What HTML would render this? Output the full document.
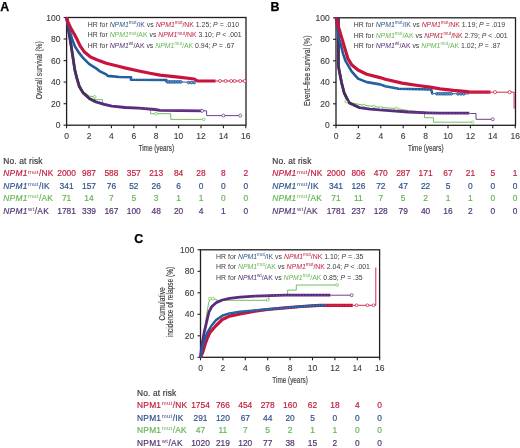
<!DOCTYPE html>
<html><head><meta charset="utf-8"><style>
html,body{margin:0;padding:0;background:#fff;}
body{width:520px;height:448px;overflow:hidden;}
svg{display:block;will-change:transform;font-family:"Liberation Sans",sans-serif;}
.tk{font-size:8.5px;fill:#3a3a3a;stroke:#3a3a3a;stroke-width:0.1px;}
.ax{font-size:8.7px;fill:#3a3a3a;stroke:#3a3a3a;stroke-width:0.15px;}
.hr{font-size:6.9px;fill:#3a3a3a;}
.sup{font-size:4.6px;stroke-width:0;}
.rk{font-size:8.4px;fill:#3a3a3a;stroke:#3a3a3a;stroke-width:0.18px;}
.rsup{font-size:5.9px;stroke-width:0;}
.pl{font-size:12.4px;font-weight:bold;fill:#000;stroke:#000;stroke-width:0.25px;}
</style></head><body>
<svg width="520" height="448" viewBox="0 0 520 448">
<rect width="520" height="448" fill="#fff"/>
<text x="0.3" y="10.9" class="pl">A</text><text x="270.6" y="10.9" class="pl">B</text><text x="134.2" y="242.5" class="pl">C</text><rect x="66.6" y="17.5" width="179.4" height="107.7" fill="none" stroke="#231f20" stroke-width="1.3"/><line x1="63.6" y1="125.2" x2="66.6" y2="125.2" stroke="#231f20" stroke-width="1.1"/><text x="60.4" y="128.3" text-anchor="end" class="tk">0</text><line x1="63.6" y1="103.7" x2="66.6" y2="103.7" stroke="#231f20" stroke-width="1.1"/><text x="60.4" y="106.8" text-anchor="end" class="tk">20</text><line x1="63.6" y1="82.1" x2="66.6" y2="82.1" stroke="#231f20" stroke-width="1.1"/><text x="60.4" y="85.2" text-anchor="end" class="tk">40</text><line x1="63.6" y1="60.6" x2="66.6" y2="60.6" stroke="#231f20" stroke-width="1.1"/><text x="60.4" y="63.7" text-anchor="end" class="tk">60</text><line x1="63.6" y1="39.0" x2="66.6" y2="39.0" stroke="#231f20" stroke-width="1.1"/><text x="60.4" y="42.1" text-anchor="end" class="tk">80</text><line x1="63.6" y1="17.5" x2="66.6" y2="17.5" stroke="#231f20" stroke-width="1.1"/><text x="60.4" y="20.6" text-anchor="end" class="tk">100</text><line x1="66.6" y1="125.2" x2="66.6" y2="128.2" stroke="#231f20" stroke-width="1.1"/><text x="66.6" y="138.7" text-anchor="middle" class="tk">0</text><line x1="89.0" y1="125.2" x2="89.0" y2="128.2" stroke="#231f20" stroke-width="1.1"/><text x="89.0" y="138.7" text-anchor="middle" class="tk">2</text><line x1="111.4" y1="125.2" x2="111.4" y2="128.2" stroke="#231f20" stroke-width="1.1"/><text x="111.4" y="138.7" text-anchor="middle" class="tk">4</text><line x1="133.8" y1="125.2" x2="133.8" y2="128.2" stroke="#231f20" stroke-width="1.1"/><text x="133.8" y="138.7" text-anchor="middle" class="tk">6</text><line x1="156.2" y1="125.2" x2="156.2" y2="128.2" stroke="#231f20" stroke-width="1.1"/><text x="156.2" y="138.7" text-anchor="middle" class="tk">8</text><line x1="178.6" y1="125.2" x2="178.6" y2="128.2" stroke="#231f20" stroke-width="1.1"/><text x="178.6" y="138.7" text-anchor="middle" class="tk">10</text><line x1="201.0" y1="125.2" x2="201.0" y2="128.2" stroke="#231f20" stroke-width="1.1"/><text x="201.0" y="138.7" text-anchor="middle" class="tk">12</text><line x1="223.4" y1="125.2" x2="223.4" y2="128.2" stroke="#231f20" stroke-width="1.1"/><text x="223.4" y="138.7" text-anchor="middle" class="tk">14</text><line x1="245.8" y1="125.2" x2="245.8" y2="128.2" stroke="#231f20" stroke-width="1.1"/><text x="245.8" y="138.7" text-anchor="middle" class="tk">16</text><text x="156.3" y="151.3" text-anchor="middle" class="ax" textLength="35.5" lengthAdjust="spacingAndGlyphs">Time (years)</text><rect x="336.0" y="17.8" width="179.5" height="107.5" fill="none" stroke="#231f20" stroke-width="1.3"/><line x1="333.0" y1="125.3" x2="336.0" y2="125.3" stroke="#231f20" stroke-width="1.1"/><text x="329.8" y="128.4" text-anchor="end" class="tk">0</text><line x1="333.0" y1="103.8" x2="336.0" y2="103.8" stroke="#231f20" stroke-width="1.1"/><text x="329.8" y="106.9" text-anchor="end" class="tk">20</text><line x1="333.0" y1="82.3" x2="336.0" y2="82.3" stroke="#231f20" stroke-width="1.1"/><text x="329.8" y="85.4" text-anchor="end" class="tk">40</text><line x1="333.0" y1="60.8" x2="336.0" y2="60.8" stroke="#231f20" stroke-width="1.1"/><text x="329.8" y="63.9" text-anchor="end" class="tk">60</text><line x1="333.0" y1="39.3" x2="336.0" y2="39.3" stroke="#231f20" stroke-width="1.1"/><text x="329.8" y="42.4" text-anchor="end" class="tk">80</text><line x1="333.0" y1="17.8" x2="336.0" y2="17.8" stroke="#231f20" stroke-width="1.1"/><text x="329.8" y="20.9" text-anchor="end" class="tk">100</text><line x1="336.0" y1="125.3" x2="336.0" y2="128.3" stroke="#231f20" stroke-width="1.1"/><text x="336.0" y="138.8" text-anchor="middle" class="tk">0</text><line x1="358.4" y1="125.3" x2="358.4" y2="128.3" stroke="#231f20" stroke-width="1.1"/><text x="358.4" y="138.8" text-anchor="middle" class="tk">2</text><line x1="380.8" y1="125.3" x2="380.8" y2="128.3" stroke="#231f20" stroke-width="1.1"/><text x="380.8" y="138.8" text-anchor="middle" class="tk">4</text><line x1="403.2" y1="125.3" x2="403.2" y2="128.3" stroke="#231f20" stroke-width="1.1"/><text x="403.2" y="138.8" text-anchor="middle" class="tk">6</text><line x1="425.6" y1="125.3" x2="425.6" y2="128.3" stroke="#231f20" stroke-width="1.1"/><text x="425.6" y="138.8" text-anchor="middle" class="tk">8</text><line x1="448.0" y1="125.3" x2="448.0" y2="128.3" stroke="#231f20" stroke-width="1.1"/><text x="448.0" y="138.8" text-anchor="middle" class="tk">10</text><line x1="470.4" y1="125.3" x2="470.4" y2="128.3" stroke="#231f20" stroke-width="1.1"/><text x="470.4" y="138.8" text-anchor="middle" class="tk">12</text><line x1="492.8" y1="125.3" x2="492.8" y2="128.3" stroke="#231f20" stroke-width="1.1"/><text x="492.8" y="138.8" text-anchor="middle" class="tk">14</text><line x1="515.2" y1="125.3" x2="515.2" y2="128.3" stroke="#231f20" stroke-width="1.1"/><text x="515.2" y="138.8" text-anchor="middle" class="tk">16</text><text x="425.8" y="151.4" text-anchor="middle" class="ax" textLength="35.5" lengthAdjust="spacingAndGlyphs">Time (years)</text><rect x="200.5" y="249.8" width="179.1" height="107.5" fill="none" stroke="#231f20" stroke-width="1.3"/><line x1="197.5" y1="357.3" x2="200.5" y2="357.3" stroke="#231f20" stroke-width="1.1"/><text x="194.3" y="360.4" text-anchor="end" class="tk">0</text><line x1="197.5" y1="335.8" x2="200.5" y2="335.8" stroke="#231f20" stroke-width="1.1"/><text x="194.3" y="338.9" text-anchor="end" class="tk">20</text><line x1="197.5" y1="314.3" x2="200.5" y2="314.3" stroke="#231f20" stroke-width="1.1"/><text x="194.3" y="317.4" text-anchor="end" class="tk">40</text><line x1="197.5" y1="292.8" x2="200.5" y2="292.8" stroke="#231f20" stroke-width="1.1"/><text x="194.3" y="295.9" text-anchor="end" class="tk">60</text><line x1="197.5" y1="271.3" x2="200.5" y2="271.3" stroke="#231f20" stroke-width="1.1"/><text x="194.3" y="274.4" text-anchor="end" class="tk">80</text><line x1="197.5" y1="249.8" x2="200.5" y2="249.8" stroke="#231f20" stroke-width="1.1"/><text x="194.3" y="252.9" text-anchor="end" class="tk">100</text><line x1="200.5" y1="357.3" x2="200.5" y2="360.3" stroke="#231f20" stroke-width="1.1"/><text x="200.5" y="370.8" text-anchor="middle" class="tk">0</text><line x1="222.9" y1="357.3" x2="222.9" y2="360.3" stroke="#231f20" stroke-width="1.1"/><text x="222.9" y="370.8" text-anchor="middle" class="tk">2</text><line x1="245.3" y1="357.3" x2="245.3" y2="360.3" stroke="#231f20" stroke-width="1.1"/><text x="245.3" y="370.8" text-anchor="middle" class="tk">4</text><line x1="267.7" y1="357.3" x2="267.7" y2="360.3" stroke="#231f20" stroke-width="1.1"/><text x="267.7" y="370.8" text-anchor="middle" class="tk">6</text><line x1="290.1" y1="357.3" x2="290.1" y2="360.3" stroke="#231f20" stroke-width="1.1"/><text x="290.1" y="370.8" text-anchor="middle" class="tk">8</text><line x1="312.5" y1="357.3" x2="312.5" y2="360.3" stroke="#231f20" stroke-width="1.1"/><text x="312.5" y="370.8" text-anchor="middle" class="tk">10</text><line x1="334.9" y1="357.3" x2="334.9" y2="360.3" stroke="#231f20" stroke-width="1.1"/><text x="334.9" y="370.8" text-anchor="middle" class="tk">12</text><line x1="357.3" y1="357.3" x2="357.3" y2="360.3" stroke="#231f20" stroke-width="1.1"/><text x="357.3" y="370.8" text-anchor="middle" class="tk">14</text><line x1="379.7" y1="357.3" x2="379.7" y2="360.3" stroke="#231f20" stroke-width="1.1"/><text x="379.7" y="370.8" text-anchor="middle" class="tk">16</text><text x="290.1" y="383.4" text-anchor="middle" class="ax" textLength="35.5" lengthAdjust="spacingAndGlyphs">Time (years)</text><polyline points="66.6,17.5 68.2,27.2 71.2,45.0 74.8,68.7 76.7,76.2 79.3,84.8 83.1,91.3 89.4,96.1 94.6,96.9 94.6,99.6 102.4,99.6 102.4,102.6 111.8,105.6 125.4,107.1 138.8,108.0 150.6,109.0 150.6,113.7 170.8,113.7 170.8,119.4 203.8,119.4" fill="none" stroke="#70c05c" stroke-width="1.0" stroke-linejoin="round" /><polyline points="202.1,110.8 206.6,110.8 206.6,115.6 240.2,115.6" fill="none" stroke="#5a2a80" stroke-width="0.9" stroke-linejoin="round" /><polyline points="66.6,17.5 68.2,27.9 71.2,46.1 74.8,69.9 76.7,77.6 79.3,86.5 83.1,92.9 85.0,94.5 89.4,98.6 95.7,101.8 98.5,102.6 104.0,104.4 111.8,106.2 125.4,107.5 138.8,108.2 155.0,109.5 160.0,110.3 202.1,110.8" fill="none" stroke="#5a2a80" stroke-width="2.8" stroke-linejoin="round" /><polyline points="138.8,108.2 155.0,109.5 160.0,110.3 202.1,110.8" fill="none" stroke="#b58fd0" stroke-width="0.8" stroke-linejoin="round" stroke-dasharray="0.9 2.1" opacity="0.55"/><polyline points="66.6,17.5 68.2,27.9 71.2,46.1 74.8,69.9 76.7,77.6 79.3,86.5 83.1,92.9 85.0,94.5 89.4,98.6 95.7,101.8" fill="none" stroke="#48305c" stroke-width="2.5" stroke-linejoin="round" /><polyline points="166.3,81.9 180.8,81.9 194.3,82.6" fill="none" stroke="#1f5c9e" stroke-width="1.0" stroke-linejoin="round" /><polyline points="66.6,17.5 67.7,22.9 70.6,34.1 72.4,40.1 74.8,46.1 78.5,52.1 83.3,58.2 89.3,64.2 95.3,67.8 99.5,71.1 106.2,74.4 107.8,75.9 119.4,77.0 131.0,77.3 131.0,79.8 166.3,80.0 166.3,81.9" fill="none" stroke="#1f5c9e" stroke-width="2.6" stroke-linejoin="round" /><polyline points="119.4,77.0 131.0,77.3 131.0,79.8 166.3,80.0 166.3,81.9" fill="none" stroke="#9cc0e6" stroke-width="0.8" stroke-linejoin="round" stroke-dasharray="0.9 2.1" opacity="0.55"/><circle cx="167.4" cy="81.9" r="1.3" fill="#7ea3cf" stroke="#1f5c9e" stroke-width="0.9"/><circle cx="169.1" cy="81.9" r="1.3" fill="#7ea3cf" stroke="#1f5c9e" stroke-width="0.9"/><circle cx="170.8" cy="81.9" r="1.3" fill="#7ea3cf" stroke="#1f5c9e" stroke-width="0.9"/><circle cx="172.4" cy="81.9" r="1.3" fill="#7ea3cf" stroke="#1f5c9e" stroke-width="0.9"/><circle cx="174.1" cy="81.9" r="1.3" fill="#7ea3cf" stroke="#1f5c9e" stroke-width="0.9"/><circle cx="175.8" cy="81.9" r="1.3" fill="#7ea3cf" stroke="#1f5c9e" stroke-width="0.9"/><circle cx="177.5" cy="81.9" r="1.3" fill="#7ea3cf" stroke="#1f5c9e" stroke-width="0.9"/><circle cx="179.2" cy="81.9" r="1.3" fill="#7ea3cf" stroke="#1f5c9e" stroke-width="0.9"/><circle cx="180.8" cy="81.9" r="1.3" fill="#7ea3cf" stroke="#1f5c9e" stroke-width="0.9"/><circle cx="188.7" cy="82.6" r="1.3" fill="#7ea3cf" stroke="#1f5c9e" stroke-width="0.9"/><circle cx="191.5" cy="82.6" r="1.3" fill="#7ea3cf" stroke="#1f5c9e" stroke-width="0.9"/><circle cx="194.3" cy="82.6" r="1.3" fill="#7ea3cf" stroke="#1f5c9e" stroke-width="0.9"/><polyline points="215.6,81.0 245.8,81.0" fill="none" stroke="#c8143c" stroke-width="0.9" stroke-linejoin="round" /><polyline points="66.6,17.5 67.9,21.8 70.6,27.9 74.2,34.1 77.4,40.1 80.3,46.1 84.5,52.1 90.5,57.0 98.9,60.6 106.2,63.3 119.4,66.5 124.8,67.9 138.8,71.0 150.0,73.3 160.0,75.1 178.6,77.1 194.3,79.0 197.6,81.0 215.6,81.0" fill="none" stroke="#c8143c" stroke-width="3.2" stroke-linejoin="round" /><polyline points="215.6,81.0" fill="none" stroke="#f3a0b4" stroke-width="0.8" stroke-linejoin="round" stroke-dasharray="0.9 2.1" opacity="0.55"/><circle cx="220.0" cy="81.0" r="1.5" fill="#fff" stroke="#c8143c" stroke-width="0.7"/><circle cx="225.6" cy="81.0" r="1.5" fill="#fff" stroke="#c8143c" stroke-width="0.7"/><circle cx="231.2" cy="81.0" r="1.5" fill="#fff" stroke="#c8143c" stroke-width="0.7"/><circle cx="234.6" cy="81.0" r="1.5" fill="#fff" stroke="#c8143c" stroke-width="0.7"/><circle cx="240.2" cy="81.0" r="1.5" fill="#fff" stroke="#c8143c" stroke-width="0.7"/><circle cx="244.7" cy="81.0" r="1.5" fill="#fff" stroke="#c8143c" stroke-width="0.7"/><circle cx="202.1" cy="110.8" r="1.5" fill="#fff" stroke="#5a2a80" stroke-width="0.7"/><circle cx="223.4" cy="115.6" r="1.5" fill="#fff" stroke="#5a2a80" stroke-width="0.7"/><circle cx="240.2" cy="115.6" r="1.5" fill="#fff" stroke="#5a2a80" stroke-width="0.7"/><circle cx="94.6" cy="96.9" r="1.4" fill="#fff" stroke="#70c05c" stroke-width="0.7"/><circle cx="156.2" cy="113.7" r="1.4" fill="#fff" stroke="#70c05c" stroke-width="0.7"/><circle cx="203.8" cy="119.4" r="1.4" fill="#fff" stroke="#70c05c" stroke-width="0.7"/><polyline points="338.4,17.8 338.4,65.6 339.1,70.0 341.6,82.8 344.2,93.0 346.1,99.0 348.0,101.4 352.8,103.2 364.0,105.3 374.1,106.4 380.8,107.5 396.5,108.5 408.8,110.7 424.5,112.2 424.5,117.7 433.4,117.7 433.4,122.2 472.6,122.2" fill="none" stroke="#70c05c" stroke-width="1.0" stroke-linejoin="round" /><polyline points="469.3,113.2 470.4,113.5 476.0,113.5 476.0,119.3 492.8,119.3" fill="none" stroke="#5a2a80" stroke-width="0.9" stroke-linejoin="round" /><polyline points="338.4,17.8 338.4,65.6 339.1,70.0 341.6,82.8 344.2,93.0 348.0,100.6 349.4,102.9 359.3,107.6 370.0,109.2 389.2,110.7 408.2,112.0 427.8,112.8 440.2,113.2 469.3,113.2" fill="none" stroke="#5a2a80" stroke-width="2.8" stroke-linejoin="round" /><polyline points="408.2,112.0 427.8,112.8 440.2,113.2 469.3,113.2" fill="none" stroke="#b58fd0" stroke-width="0.8" stroke-linejoin="round" stroke-dasharray="0.9 2.1" opacity="0.55"/><polyline points="338.4,17.8 338.4,65.6 339.1,70.0 341.6,82.8 344.2,93.0 348.0,100.6 349.4,102.9 359.3,107.6" fill="none" stroke="#48305c" stroke-width="2.5" stroke-linejoin="round" /><polyline points="433.4,93.5 469.3,93.9" fill="none" stroke="#1f5c9e" stroke-width="1.0" stroke-linejoin="round" /><polyline points="336.0,17.8 336.9,25.3 338.2,34.1 339.4,40.1 341.2,46.1 343.1,53.8 345.5,60.8 348.0,65.2 351.6,71.4 358.0,78.6 366.8,82.1 380.0,84.4 385.3,86.3 398.7,88.8 431.2,89.5 432.3,93.5 433.4,93.5" fill="none" stroke="#1f5c9e" stroke-width="2.6" stroke-linejoin="round" /><polyline points="366.8,82.1 380.0,84.4 385.3,86.3 398.7,88.8 431.2,89.5 432.3,93.5 433.4,93.5" fill="none" stroke="#9cc0e6" stroke-width="0.8" stroke-linejoin="round" stroke-dasharray="0.9 2.1" opacity="0.55"/><circle cx="436.8" cy="93.8" r="1.3" fill="#7ea3cf" stroke="#1f5c9e" stroke-width="0.9"/><circle cx="438.6" cy="93.8" r="1.3" fill="#7ea3cf" stroke="#1f5c9e" stroke-width="0.9"/><circle cx="440.4" cy="93.8" r="1.3" fill="#7ea3cf" stroke="#1f5c9e" stroke-width="0.9"/><circle cx="442.3" cy="93.8" r="1.3" fill="#7ea3cf" stroke="#1f5c9e" stroke-width="0.9"/><circle cx="444.1" cy="93.8" r="1.3" fill="#7ea3cf" stroke="#1f5c9e" stroke-width="0.9"/><circle cx="445.9" cy="93.8" r="1.3" fill="#7ea3cf" stroke="#1f5c9e" stroke-width="0.9"/><circle cx="447.7" cy="93.8" r="1.3" fill="#7ea3cf" stroke="#1f5c9e" stroke-width="0.9"/><circle cx="449.5" cy="93.8" r="1.3" fill="#7ea3cf" stroke="#1f5c9e" stroke-width="0.9"/><circle cx="451.4" cy="93.8" r="1.3" fill="#7ea3cf" stroke="#1f5c9e" stroke-width="0.9"/><circle cx="458.1" cy="93.9" r="1.3" fill="#7ea3cf" stroke="#1f5c9e" stroke-width="0.9"/><circle cx="460.9" cy="93.9" r="1.3" fill="#7ea3cf" stroke="#1f5c9e" stroke-width="0.9"/><circle cx="463.7" cy="93.9" r="1.3" fill="#7ea3cf" stroke="#1f5c9e" stroke-width="0.9"/><polyline points="490.6,92.2 514.1,92.2 514.1,108.6" fill="none" stroke="#c8143c" stroke-width="0.9" stroke-linejoin="round" /><polyline points="336.0,17.8 337.1,21.0 338.8,28.0 340.6,34.1 342.4,40.1 344.2,46.1 346.0,52.1 347.9,58.7 351.9,65.1 358.0,70.0 366.8,74.2 380.0,77.6 385.3,79.3 402.1,83.1 417.8,85.5 430.1,87.2 440.2,88.8 453.6,90.3 464.8,91.3 470.4,92.2 490.6,92.2" fill="none" stroke="#c8143c" stroke-width="3.2" stroke-linejoin="round" /><polyline points="470.4,92.2 490.6,92.2" fill="none" stroke="#f3a0b4" stroke-width="0.8" stroke-linejoin="round" stroke-dasharray="0.9 2.1" opacity="0.55"/><circle cx="495.0" cy="92.2" r="1.6" fill="#fff" stroke="#c8143c" stroke-width="0.7"/><circle cx="509.6" cy="92.2" r="1.6" fill="#fff" stroke="#c8143c" stroke-width="0.7"/><circle cx="492.8" cy="119.3" r="1.5" fill="#fff" stroke="#5a2a80" stroke-width="0.7"/><circle cx="346.1" cy="101.7" r="1.3" fill="#fff" stroke="#70c05c" stroke-width="0.7"/><circle cx="364.0" cy="105.5" r="1.3" fill="#fff" stroke="#70c05c" stroke-width="0.7"/><circle cx="374.1" cy="106.4" r="1.3" fill="#fff" stroke="#70c05c" stroke-width="0.7"/><circle cx="380.8" cy="107.6" r="1.3" fill="#fff" stroke="#70c05c" stroke-width="0.7"/><circle cx="396.5" cy="108.5" r="1.3" fill="#fff" stroke="#70c05c" stroke-width="0.7"/><circle cx="472.6" cy="122.2" r="1.3" fill="#fff" stroke="#70c05c" stroke-width="0.7"/><polyline points="200.5,357.3 202.2,346.6 204.4,330.4 206.7,314.3 208.7,302.5 210.0,298.7 216.2,299.2 216.2,300.3 268.8,300.3 268.8,295.2 287.6,295.2 287.6,290.1 296.3,290.1 296.3,285.0 337.1,285.0" fill="none" stroke="#70c05c" stroke-width="1.0" stroke-linejoin="round" /><polyline points="330.4,295.2 351.7,295.2" fill="none" stroke="#5a2a80" stroke-width="0.9" stroke-linejoin="round" /><polyline points="200.5,357.3 201.8,345.3 204.2,332.4 206.2,323.7 208.9,312.2 211.6,306.8 216.1,302.7 222.3,300.0 229.5,298.3 240.0,297.1 255.0,296.1 284.9,295.2 330.4,295.2" fill="none" stroke="#5a2a80" stroke-width="2.8" stroke-linejoin="round" /><polyline points="255.0,296.1 284.9,295.2 330.4,295.2" fill="none" stroke="#b58fd0" stroke-width="0.8" stroke-linejoin="round" stroke-dasharray="0.9 2.1" opacity="0.55"/><polyline points="352.8,305.3 373.5,305.3 375.8,305.3 375.8,267.5" fill="none" stroke="#c8143c" stroke-width="0.9" stroke-linejoin="round" /><polyline points="200.5,357.3 202.9,351.8 204.8,345.3 207.0,338.9 210.0,332.4 213.9,328.0 216.1,325.5 222.3,319.5 229.5,316.1 240.0,314.0 255.0,311.1 267.7,309.5 284.9,307.9 301.3,306.5 320.0,305.3 352.8,305.3" fill="none" stroke="#c8143c" stroke-width="3.2" stroke-linejoin="round" /><polyline points="301.3,306.5 320.0,305.3 352.8,305.3" fill="none" stroke="#f3a0b4" stroke-width="0.8" stroke-linejoin="round" stroke-dasharray="0.9 2.1" opacity="0.55"/><polyline points="200.5,357.3 201.6,350.9 202.9,345.3 204.8,338.9 207.4,332.4 211.6,325.5 216.1,320.1 222.3,315.7 229.5,313.4 240.0,311.7 255.0,310.4 267.7,309.2 284.9,307.9 301.3,306.5 320.0,305.3 325.9,305.1" fill="none" stroke="#1f5c9e" stroke-width="2.4" stroke-linejoin="round" /><polyline points="229.5,313.4 240.0,311.7 255.0,310.4 267.7,309.2 284.9,307.9 301.3,306.5 320.0,305.3 325.9,305.1" fill="none" stroke="#9cc0e6" stroke-width="0.8" stroke-linejoin="round" stroke-dasharray="0.9 2.1" opacity="0.55"/><circle cx="356.7" cy="305.3" r="1.4" fill="#fff" stroke="#c8143c" stroke-width="0.7"/><circle cx="367.4" cy="305.3" r="1.4" fill="#fff" stroke="#c8143c" stroke-width="0.7"/><circle cx="373.5" cy="305.3" r="1.4" fill="#fff" stroke="#c8143c" stroke-width="0.7"/><circle cx="351.7" cy="295.2" r="1.5" fill="#fff" stroke="#5a2a80" stroke-width="0.7"/><circle cx="210.0" cy="298.7" r="1.4" fill="#fff" stroke="#70c05c" stroke-width="0.7"/><circle cx="212.8" cy="298.6" r="1.4" fill="#fff" stroke="#70c05c" stroke-width="0.7"/><circle cx="267.7" cy="300.0" r="1.4" fill="#fff" stroke="#70c05c" stroke-width="0.7"/><circle cx="337.1" cy="285.0" r="1.4" fill="#fff" stroke="#70c05c" stroke-width="0.7"/><text x="87.8" y="26.8" class="hr">HR for <tspan fill="#2f5489" font-style="italic">NPM1</tspan><tspan fill="#2f5489" class="sup" dy="-2.9">mut</tspan><tspan fill="#2f5489" dy="2.9">/IK</tspan> vs <tspan fill="#c0203f" font-style="italic">NPM1</tspan><tspan fill="#c0203f" class="sup" dy="-2.9">mut</tspan><tspan fill="#c0203f" dy="2.9">/NK</tspan> 1.25; <tspan font-style="italic">P</tspan> = .010</text><text x="87.8" y="37.4" class="hr">HR for <tspan fill="#66b556" font-style="italic">NPM1</tspan><tspan fill="#66b556" class="sup" dy="-2.9">mut</tspan><tspan fill="#66b556" dy="2.9">/AK</tspan> vs <tspan fill="#c0203f" font-style="italic">NPM1</tspan><tspan fill="#c0203f" class="sup" dy="-2.9">mut</tspan><tspan fill="#c0203f" dy="2.9">/NK</tspan> 3.10; <tspan font-style="italic">P</tspan> < .001</text><text x="87.8" y="48.0" class="hr">HR for <tspan fill="#523470" font-style="italic">NPM1</tspan><tspan fill="#523470" class="sup" dy="-2.9">wt</tspan><tspan fill="#523470" dy="2.9">/AK</tspan> vs <tspan fill="#66b556" font-style="italic">NPM1</tspan><tspan fill="#66b556" class="sup" dy="-2.9">mut</tspan><tspan fill="#66b556" dy="2.9">/AK</tspan> 0.94; <tspan font-style="italic">P</tspan> = .67</text><text x="353.8" y="27.0" class="hr">HR for <tspan fill="#2f5489" font-style="italic">NPM1</tspan><tspan fill="#2f5489" class="sup" dy="-2.9">mut</tspan><tspan fill="#2f5489" dy="2.9">/IK</tspan> vs <tspan fill="#c0203f" font-style="italic">NPM1</tspan><tspan fill="#c0203f" class="sup" dy="-2.9">mut</tspan><tspan fill="#c0203f" dy="2.9">/NK</tspan> 1.19; <tspan font-style="italic">P</tspan> = .019</text><text x="353.8" y="37.6" class="hr">HR for <tspan fill="#66b556" font-style="italic">NPM1</tspan><tspan fill="#66b556" class="sup" dy="-2.9">mut</tspan><tspan fill="#66b556" dy="2.9">/AK</tspan> vs <tspan fill="#c0203f" font-style="italic">NPM1</tspan><tspan fill="#c0203f" class="sup" dy="-2.9">mut</tspan><tspan fill="#c0203f" dy="2.9">/NK</tspan> 2.79; <tspan font-style="italic">P</tspan> < .001</text><text x="353.8" y="48.2" class="hr">HR for <tspan fill="#523470" font-style="italic">NPM1</tspan><tspan fill="#523470" class="sup" dy="-2.9">wt</tspan><tspan fill="#523470" dy="2.9">/AK</tspan> vs <tspan fill="#66b556" font-style="italic">NPM1</tspan><tspan fill="#66b556" class="sup" dy="-2.9">mut</tspan><tspan fill="#66b556" dy="2.9">/AK</tspan> 1.02; <tspan font-style="italic">P</tspan> = .87</text><text x="216.1" y="258.7" class="hr">HR for <tspan fill="#2f5489" font-style="italic">NPM1</tspan><tspan fill="#2f5489" class="sup" dy="-2.9">mut</tspan><tspan fill="#2f5489" dy="2.9">/IK</tspan> vs <tspan fill="#c0203f" font-style="italic">NPM1</tspan><tspan fill="#c0203f" class="sup" dy="-2.9">mut</tspan><tspan fill="#c0203f" dy="2.9">/NK</tspan> 1.10; <tspan font-style="italic">P</tspan> = .35</text><text x="216.1" y="269.3" class="hr">HR for <tspan fill="#66b556" font-style="italic">NPM1</tspan><tspan fill="#66b556" class="sup" dy="-2.9">mut</tspan><tspan fill="#66b556" dy="2.9">/AK</tspan> vs <tspan fill="#c0203f" font-style="italic">NPM1</tspan><tspan fill="#c0203f" class="sup" dy="-2.9">mut</tspan><tspan fill="#c0203f" dy="2.9">/NK</tspan> 2.04; <tspan font-style="italic">P</tspan> < .001</text><text x="216.1" y="279.9" class="hr">HR for <tspan fill="#523470" font-style="italic">NPM1</tspan><tspan fill="#523470" class="sup" dy="-2.9">wt</tspan><tspan fill="#523470" dy="2.9">/AK</tspan> vs <tspan fill="#66b556" font-style="italic">NPM1</tspan><tspan fill="#66b556" class="sup" dy="-2.9">mut</tspan><tspan fill="#66b556" dy="2.9">/AK</tspan> 0.85; <tspan font-style="italic">P</tspan> = .35</text><text transform="translate(42.1,70.2) rotate(-90)" text-anchor="middle" class="ax" textLength="58" lengthAdjust="spacingAndGlyphs">Overall survival (%)</text><text transform="translate(310.2,70.8) rotate(-90)" text-anchor="middle" class="ax" textLength="70.5" lengthAdjust="spacingAndGlyphs">Event–free survival (%)</text><text transform="translate(165.2,303.9) rotate(-90)" text-anchor="middle" class="ax" textLength="33.3" lengthAdjust="spacingAndGlyphs">Cumulative</text><text transform="translate(172.9,302) rotate(-90)" text-anchor="middle" class="ax" textLength="70.5" lengthAdjust="spacingAndGlyphs">incidence of relapse (%)</text><text x="3.3" y="164.0" class="rk" style="letter-spacing:0.15px">No. at risk</text><text x="3.3" y="176.4" class="rk" style="fill:#c0203f;stroke:#c0203f;letter-spacing:0.25px"><tspan font-style="italic">NPM1</tspan><tspan class="rsup" dx="0.5" dy="-2.9">mut</tspan><tspan dx="0.3" dy="2.9">/NK</tspan></text><text x="66.6" y="176.4" class="rk" style="fill:#c0203f;stroke:#c0203f" text-anchor="middle">2000</text><text x="89.0" y="176.4" class="rk" style="fill:#c0203f;stroke:#c0203f" text-anchor="middle">987</text><text x="111.4" y="176.4" class="rk" style="fill:#c0203f;stroke:#c0203f" text-anchor="middle">588</text><text x="133.8" y="176.4" class="rk" style="fill:#c0203f;stroke:#c0203f" text-anchor="middle">357</text><text x="156.2" y="176.4" class="rk" style="fill:#c0203f;stroke:#c0203f" text-anchor="middle">213</text><text x="178.6" y="176.4" class="rk" style="fill:#c0203f;stroke:#c0203f" text-anchor="middle">84</text><text x="201.0" y="176.4" class="rk" style="fill:#c0203f;stroke:#c0203f" text-anchor="middle">28</text><text x="223.4" y="176.4" class="rk" style="fill:#c0203f;stroke:#c0203f" text-anchor="middle">8</text><text x="245.8" y="176.4" class="rk" style="fill:#c0203f;stroke:#c0203f" text-anchor="middle">2</text><text x="3.3" y="188.8" class="rk" style="fill:#2f5489;stroke:#2f5489;letter-spacing:0.25px"><tspan font-style="italic">NPM1</tspan><tspan class="rsup" dx="0.5" dy="-2.9">mut</tspan><tspan dx="0.3" dy="2.9">/IK</tspan></text><text x="66.6" y="188.8" class="rk" style="fill:#2f5489;stroke:#2f5489" text-anchor="middle">341</text><text x="89.0" y="188.8" class="rk" style="fill:#2f5489;stroke:#2f5489" text-anchor="middle">157</text><text x="111.4" y="188.8" class="rk" style="fill:#2f5489;stroke:#2f5489" text-anchor="middle">76</text><text x="133.8" y="188.8" class="rk" style="fill:#2f5489;stroke:#2f5489" text-anchor="middle">52</text><text x="156.2" y="188.8" class="rk" style="fill:#2f5489;stroke:#2f5489" text-anchor="middle">26</text><text x="178.6" y="188.8" class="rk" style="fill:#2f5489;stroke:#2f5489" text-anchor="middle">6</text><text x="201.0" y="188.8" class="rk" style="fill:#2f5489;stroke:#2f5489" text-anchor="middle">0</text><text x="223.4" y="188.8" class="rk" style="fill:#2f5489;stroke:#2f5489" text-anchor="middle">0</text><text x="245.8" y="188.8" class="rk" style="fill:#2f5489;stroke:#2f5489" text-anchor="middle">0</text><text x="3.3" y="201.2" class="rk" style="fill:#66b556;stroke:#66b556;letter-spacing:0.25px"><tspan font-style="italic">NPM1</tspan><tspan class="rsup" dx="0.5" dy="-2.9">mut</tspan><tspan dx="0.3" dy="2.9">/AK</tspan></text><text x="66.6" y="201.2" class="rk" style="fill:#66b556;stroke:#66b556" text-anchor="middle">71</text><text x="89.0" y="201.2" class="rk" style="fill:#66b556;stroke:#66b556" text-anchor="middle">14</text><text x="111.4" y="201.2" class="rk" style="fill:#66b556;stroke:#66b556" text-anchor="middle">7</text><text x="133.8" y="201.2" class="rk" style="fill:#66b556;stroke:#66b556" text-anchor="middle">5</text><text x="156.2" y="201.2" class="rk" style="fill:#66b556;stroke:#66b556" text-anchor="middle">3</text><text x="178.6" y="201.2" class="rk" style="fill:#66b556;stroke:#66b556" text-anchor="middle">1</text><text x="201.0" y="201.2" class="rk" style="fill:#66b556;stroke:#66b556" text-anchor="middle">1</text><text x="223.4" y="201.2" class="rk" style="fill:#66b556;stroke:#66b556" text-anchor="middle">0</text><text x="245.8" y="201.2" class="rk" style="fill:#66b556;stroke:#66b556" text-anchor="middle">0</text><text x="3.3" y="213.6" class="rk" style="fill:#523470;stroke:#523470;letter-spacing:0.25px"><tspan font-style="italic">NPM1</tspan><tspan class="rsup" dx="0.5" dy="-2.9">wt</tspan><tspan dx="0.3" dy="2.9">/AK</tspan></text><text x="66.6" y="213.6" class="rk" style="fill:#523470;stroke:#523470" text-anchor="middle">1781</text><text x="89.0" y="213.6" class="rk" style="fill:#523470;stroke:#523470" text-anchor="middle">339</text><text x="111.4" y="213.6" class="rk" style="fill:#523470;stroke:#523470" text-anchor="middle">167</text><text x="133.8" y="213.6" class="rk" style="fill:#523470;stroke:#523470" text-anchor="middle">100</text><text x="156.2" y="213.6" class="rk" style="fill:#523470;stroke:#523470" text-anchor="middle">48</text><text x="178.6" y="213.6" class="rk" style="fill:#523470;stroke:#523470" text-anchor="middle">20</text><text x="201.0" y="213.6" class="rk" style="fill:#523470;stroke:#523470" text-anchor="middle">4</text><text x="223.4" y="213.6" class="rk" style="fill:#523470;stroke:#523470" text-anchor="middle">1</text><text x="245.8" y="213.6" class="rk" style="fill:#523470;stroke:#523470" text-anchor="middle">0</text><text x="272.2" y="164.0" class="rk" style="letter-spacing:0.15px">No. at risk</text><text x="272.2" y="176.4" class="rk" style="fill:#c0203f;stroke:#c0203f;letter-spacing:0.25px"><tspan font-style="italic">NPM1</tspan><tspan class="rsup" dx="0.5" dy="-2.9">mut</tspan><tspan dx="0.3" dy="2.9">/NK</tspan></text><text x="336.0" y="176.4" class="rk" style="fill:#c0203f;stroke:#c0203f" text-anchor="middle">2000</text><text x="358.4" y="176.4" class="rk" style="fill:#c0203f;stroke:#c0203f" text-anchor="middle">806</text><text x="380.8" y="176.4" class="rk" style="fill:#c0203f;stroke:#c0203f" text-anchor="middle">470</text><text x="403.2" y="176.4" class="rk" style="fill:#c0203f;stroke:#c0203f" text-anchor="middle">287</text><text x="425.6" y="176.4" class="rk" style="fill:#c0203f;stroke:#c0203f" text-anchor="middle">171</text><text x="448.0" y="176.4" class="rk" style="fill:#c0203f;stroke:#c0203f" text-anchor="middle">67</text><text x="470.4" y="176.4" class="rk" style="fill:#c0203f;stroke:#c0203f" text-anchor="middle">21</text><text x="492.8" y="176.4" class="rk" style="fill:#c0203f;stroke:#c0203f" text-anchor="middle">5</text><text x="515.2" y="176.4" class="rk" style="fill:#c0203f;stroke:#c0203f" text-anchor="middle">1</text><text x="272.2" y="188.8" class="rk" style="fill:#2f5489;stroke:#2f5489;letter-spacing:0.25px"><tspan font-style="italic">NPM1</tspan><tspan class="rsup" dx="0.5" dy="-2.9">mut</tspan><tspan dx="0.3" dy="2.9">/IK</tspan></text><text x="336.0" y="188.8" class="rk" style="fill:#2f5489;stroke:#2f5489" text-anchor="middle">341</text><text x="358.4" y="188.8" class="rk" style="fill:#2f5489;stroke:#2f5489" text-anchor="middle">126</text><text x="380.8" y="188.8" class="rk" style="fill:#2f5489;stroke:#2f5489" text-anchor="middle">72</text><text x="403.2" y="188.8" class="rk" style="fill:#2f5489;stroke:#2f5489" text-anchor="middle">47</text><text x="425.6" y="188.8" class="rk" style="fill:#2f5489;stroke:#2f5489" text-anchor="middle">22</text><text x="448.0" y="188.8" class="rk" style="fill:#2f5489;stroke:#2f5489" text-anchor="middle">5</text><text x="470.4" y="188.8" class="rk" style="fill:#2f5489;stroke:#2f5489" text-anchor="middle">0</text><text x="492.8" y="188.8" class="rk" style="fill:#2f5489;stroke:#2f5489" text-anchor="middle">0</text><text x="515.2" y="188.8" class="rk" style="fill:#2f5489;stroke:#2f5489" text-anchor="middle">0</text><text x="272.2" y="201.2" class="rk" style="fill:#66b556;stroke:#66b556;letter-spacing:0.25px"><tspan font-style="italic">NPM1</tspan><tspan class="rsup" dx="0.5" dy="-2.9">mut</tspan><tspan dx="0.3" dy="2.9">/AK</tspan></text><text x="336.0" y="201.2" class="rk" style="fill:#66b556;stroke:#66b556" text-anchor="middle">71</text><text x="358.4" y="201.2" class="rk" style="fill:#66b556;stroke:#66b556" text-anchor="middle">11</text><text x="380.8" y="201.2" class="rk" style="fill:#66b556;stroke:#66b556" text-anchor="middle">7</text><text x="403.2" y="201.2" class="rk" style="fill:#66b556;stroke:#66b556" text-anchor="middle">5</text><text x="425.6" y="201.2" class="rk" style="fill:#66b556;stroke:#66b556" text-anchor="middle">2</text><text x="448.0" y="201.2" class="rk" style="fill:#66b556;stroke:#66b556" text-anchor="middle">1</text><text x="470.4" y="201.2" class="rk" style="fill:#66b556;stroke:#66b556" text-anchor="middle">1</text><text x="492.8" y="201.2" class="rk" style="fill:#66b556;stroke:#66b556" text-anchor="middle">0</text><text x="515.2" y="201.2" class="rk" style="fill:#66b556;stroke:#66b556" text-anchor="middle">0</text><text x="272.2" y="213.6" class="rk" style="fill:#523470;stroke:#523470;letter-spacing:0.25px"><tspan font-style="italic">NPM1</tspan><tspan class="rsup" dx="0.5" dy="-2.9">wt</tspan><tspan dx="0.3" dy="2.9">/AK</tspan></text><text x="336.0" y="213.6" class="rk" style="fill:#523470;stroke:#523470" text-anchor="middle">1781</text><text x="358.4" y="213.6" class="rk" style="fill:#523470;stroke:#523470" text-anchor="middle">237</text><text x="380.8" y="213.6" class="rk" style="fill:#523470;stroke:#523470" text-anchor="middle">128</text><text x="403.2" y="213.6" class="rk" style="fill:#523470;stroke:#523470" text-anchor="middle">79</text><text x="425.6" y="213.6" class="rk" style="fill:#523470;stroke:#523470" text-anchor="middle">40</text><text x="448.0" y="213.6" class="rk" style="fill:#523470;stroke:#523470" text-anchor="middle">16</text><text x="470.4" y="213.6" class="rk" style="fill:#523470;stroke:#523470" text-anchor="middle">2</text><text x="492.8" y="213.6" class="rk" style="fill:#523470;stroke:#523470" text-anchor="middle">0</text><text x="515.2" y="213.6" class="rk" style="fill:#523470;stroke:#523470" text-anchor="middle">0</text><text x="137" y="395.9" class="rk" style="letter-spacing:0.15px">No. at risk</text><text x="137" y="408.3" class="rk" style="fill:#c0203f;stroke:#c0203f;letter-spacing:0.25px"><tspan font-style="normal">NPM1</tspan><tspan class="rsup" dx="0.5" dy="-2.9">mut</tspan><tspan dx="0.3" dy="2.9">/NK</tspan></text><text x="200.5" y="408.3" class="rk" style="fill:#c0203f;stroke:#c0203f" text-anchor="middle">1754</text><text x="222.9" y="408.3" class="rk" style="fill:#c0203f;stroke:#c0203f" text-anchor="middle">766</text><text x="245.3" y="408.3" class="rk" style="fill:#c0203f;stroke:#c0203f" text-anchor="middle">454</text><text x="267.7" y="408.3" class="rk" style="fill:#c0203f;stroke:#c0203f" text-anchor="middle">278</text><text x="290.1" y="408.3" class="rk" style="fill:#c0203f;stroke:#c0203f" text-anchor="middle">160</text><text x="312.5" y="408.3" class="rk" style="fill:#c0203f;stroke:#c0203f" text-anchor="middle">62</text><text x="334.9" y="408.3" class="rk" style="fill:#c0203f;stroke:#c0203f" text-anchor="middle">18</text><text x="357.3" y="408.3" class="rk" style="fill:#c0203f;stroke:#c0203f" text-anchor="middle">4</text><text x="379.7" y="408.3" class="rk" style="fill:#c0203f;stroke:#c0203f" text-anchor="middle">0</text><text x="137" y="420.7" class="rk" style="fill:#2f5489;stroke:#2f5489;letter-spacing:0.25px"><tspan font-style="normal">NPM1</tspan><tspan class="rsup" dx="0.5" dy="-2.9">mut</tspan><tspan dx="0.3" dy="2.9">/IK</tspan></text><text x="200.5" y="420.7" class="rk" style="fill:#2f5489;stroke:#2f5489" text-anchor="middle">291</text><text x="222.9" y="420.7" class="rk" style="fill:#2f5489;stroke:#2f5489" text-anchor="middle">120</text><text x="245.3" y="420.7" class="rk" style="fill:#2f5489;stroke:#2f5489" text-anchor="middle">67</text><text x="267.7" y="420.7" class="rk" style="fill:#2f5489;stroke:#2f5489" text-anchor="middle">44</text><text x="290.1" y="420.7" class="rk" style="fill:#2f5489;stroke:#2f5489" text-anchor="middle">20</text><text x="312.5" y="420.7" class="rk" style="fill:#2f5489;stroke:#2f5489" text-anchor="middle">5</text><text x="334.9" y="420.7" class="rk" style="fill:#2f5489;stroke:#2f5489" text-anchor="middle">0</text><text x="357.3" y="420.7" class="rk" style="fill:#2f5489;stroke:#2f5489" text-anchor="middle">0</text><text x="379.7" y="420.7" class="rk" style="fill:#2f5489;stroke:#2f5489" text-anchor="middle">0</text><text x="137" y="433.1" class="rk" style="fill:#66b556;stroke:#66b556;letter-spacing:0.25px"><tspan font-style="normal">NPM1</tspan><tspan class="rsup" dx="0.5" dy="-2.9">mut</tspan><tspan dx="0.3" dy="2.9">/AK</tspan></text><text x="200.5" y="433.1" class="rk" style="fill:#66b556;stroke:#66b556" text-anchor="middle">47</text><text x="222.9" y="433.1" class="rk" style="fill:#66b556;stroke:#66b556" text-anchor="middle">11</text><text x="245.3" y="433.1" class="rk" style="fill:#66b556;stroke:#66b556" text-anchor="middle">7</text><text x="267.7" y="433.1" class="rk" style="fill:#66b556;stroke:#66b556" text-anchor="middle">5</text><text x="290.1" y="433.1" class="rk" style="fill:#66b556;stroke:#66b556" text-anchor="middle">2</text><text x="312.5" y="433.1" class="rk" style="fill:#66b556;stroke:#66b556" text-anchor="middle">1</text><text x="334.9" y="433.1" class="rk" style="fill:#66b556;stroke:#66b556" text-anchor="middle">1</text><text x="357.3" y="433.1" class="rk" style="fill:#66b556;stroke:#66b556" text-anchor="middle">0</text><text x="379.7" y="433.1" class="rk" style="fill:#66b556;stroke:#66b556" text-anchor="middle">0</text><text x="137" y="445.5" class="rk" style="fill:#523470;stroke:#523470;letter-spacing:0.25px"><tspan font-style="normal">NPM1</tspan><tspan class="rsup" dx="0.5" dy="-2.9">wt</tspan><tspan dx="0.3" dy="2.9">/AK</tspan></text><text x="200.5" y="445.5" class="rk" style="fill:#523470;stroke:#523470" text-anchor="middle">1020</text><text x="222.9" y="445.5" class="rk" style="fill:#523470;stroke:#523470" text-anchor="middle">219</text><text x="245.3" y="445.5" class="rk" style="fill:#523470;stroke:#523470" text-anchor="middle">120</text><text x="267.7" y="445.5" class="rk" style="fill:#523470;stroke:#523470" text-anchor="middle">77</text><text x="290.1" y="445.5" class="rk" style="fill:#523470;stroke:#523470" text-anchor="middle">38</text><text x="312.5" y="445.5" class="rk" style="fill:#523470;stroke:#523470" text-anchor="middle">15</text><text x="334.9" y="445.5" class="rk" style="fill:#523470;stroke:#523470" text-anchor="middle">2</text><text x="357.3" y="445.5" class="rk" style="fill:#523470;stroke:#523470" text-anchor="middle">0</text><text x="379.7" y="445.5" class="rk" style="fill:#523470;stroke:#523470" text-anchor="middle">0</text>
</svg>
</body></html>
